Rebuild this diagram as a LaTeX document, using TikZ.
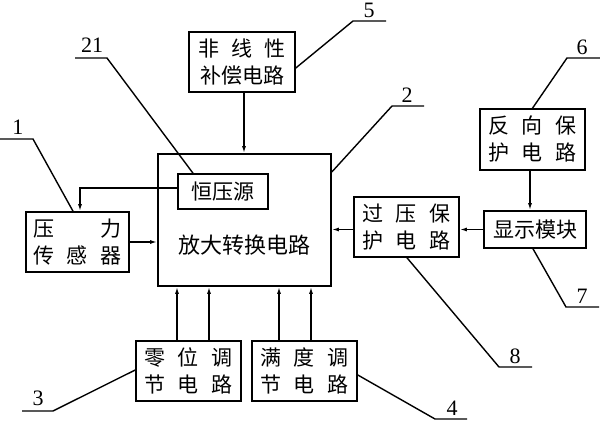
\documentclass[tikz,border=0pt]{standalone}
\usepackage{fontspec}
\setmainfont{Noto Sans CJK SC}
\newfontfamily\numfont{Liberation Serif}
\usetikzlibrary{arrows.meta}
\newcommand{\spr}[1]{\makebox[88pt][s]{#1}}
\tikzset{
  blk/.style={draw, line width=1.6pt, inner sep=0pt, align=center,
    font=\fontsize{21}{27}\selectfont},
  arr/.style={line width=1.4pt, -{Latex[length=7pt,width=4pt]}},
  lead/.style={line width=1.4pt},
  num/.style={inner sep=0pt, font=\numfont\fontsize{22}{22}\selectfont},
}
\begin{document}
\begin{tikzpicture}[x=1pt,y=-1pt]
\useasboundingbox (0,0) rectangle (600,422);
% blocks
\node[blk, minimum width=106pt, minimum height=60pt] (comp) at (242,62) {\spr{非 线 性}\\补偿电路};
\node[blk, minimum width=173pt, minimum height=132pt] (main) at (244.5,220) {};
\node[inner sep=0pt, font=\fontsize{22}{22}\selectfont] (maintxt) at (244,245) {放大转换电路};
\node[blk, minimum width=90pt, minimum height=35pt] (cv) at (223,191.5) {恒压源};
\node[blk, minimum width=103pt, minimum height=60pt] (sens) at (77.5,242) {\spr{压 力}\\\spr{传 感 器}};
\node[blk, minimum width=105pt, minimum height=61pt] (rev) at (532.5,139.5) {\spr{反 向 保}\\\spr{护 电 路}};
\node[blk, minimum width=102pt, minimum height=37pt] (disp) at (535,229.5) {显示模块};
\node[blk, minimum width=105pt, minimum height=60pt] (ovp) at (406.5,227) {\spr{过 压 保}\\\spr{护 电 路}};
\node[blk, minimum width=105pt, minimum height=60pt] (zero) at (188.5,371) {\spr{零 位 调}\\\spr{节 电 路}};
\node[blk, minimum width=105pt, minimum height=60pt] (full) at (304.5,371) {\spr{满 度 调}\\\spr{节 电 路}};
% arrows
\draw[arr] ([xshift=2pt]comp.south) -- ([xshift=2pt]comp.south |- main.north);
\draw[arr] ([yshift=3.5pt]cv.west) -| ([xshift=2.5pt]sens.north);
\draw[arr] (sens.east) -- (sens.east -| main.west);
\draw[arr] ([xshift=-2.5pt]rev.south) -- ([xshift=-2.5pt]rev.south |- disp.north);
\draw[arr] (disp.west) -- (disp.west -| ovp.east);
\draw[arr] (ovp.west |- disp.west) -- (disp.west -| main.east);
\draw[arr] ([xshift=-11.5pt]zero.north) -- ([xshift=-11.5pt]zero.north |- main.south);
\draw[arr] ([xshift=20.5pt]zero.north) -- ([xshift=20.5pt]zero.north |- main.south);
\draw[arr] ([xshift=-25.5pt]full.north) -- ([xshift=-25.5pt]full.north |- main.south);
\draw[arr] ([xshift=6.5pt]full.north) -- ([xshift=6.5pt]full.north |- main.south);
% leader lines
\coordinate (e1) at (0,139);
\draw[lead] ([xshift=-4.5pt]sens.north) -- (33,139) -- (e1);
\node[num] (n1) at (18,127) {1};
\coordinate (e21) at (75,58);
\draw[lead] ([xshift=-30pt]cv.north) -- (107,58) -- (e21);
\node[num] (n21) at (92,45) {21};
\coordinate (e5) at (386,21);
\draw[lead] ([yshift=-6pt]comp.east) -- (353,21) -- (e5);
\node[num] (n5) at (369,10) {5};
\coordinate (e2) at (424,106);
\draw[lead] ([yshift=48pt]main.east) -- (392,106) -- (e2);
\node[num] (n2) at (407,95) {2};
\coordinate (e6) at (600,58);
\draw[lead] (rev.north) -- (567,58) -- (e6);
\node[num] (n6) at (582,47) {6};
\coordinate (e7) at (599,307);
\draw[lead] ([xshift=-2pt]disp.south) -- (566,307) -- (e7);
\node[num] (n7) at (582,296) {7};
\coordinate (e8) at (532,367);
\draw[lead] ([xshift=0.5pt]ovp.south) -- (499,367) -- (e8);
\node[num] (n8) at (515,356) {8};
\coordinate (e3) at (22,411);
\draw[lead] ([yshift=1pt]zero.west) -- (53,411) -- (e3);
\node[num] (n3) at (38,398) {3};
\coordinate (e4) at (467,419);
\draw[lead] ([yshift=-4pt]full.east) -- (435,419) -- (e4);
\node[num] (n4) at (452,408) {4};
\end{tikzpicture}
\end{document}
